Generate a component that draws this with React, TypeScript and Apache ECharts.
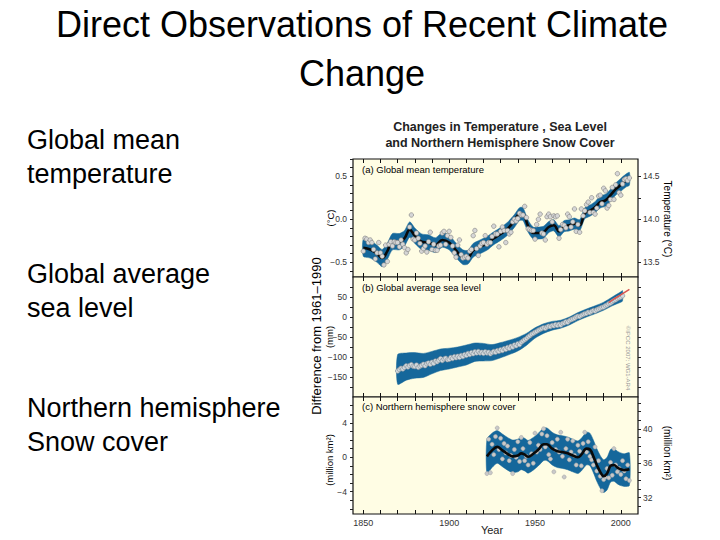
import React, { useEffect, useRef } from 'react';
import * as echarts from 'echarts';

// ---------- data ----------
const xTickYears = [1850, 1860, 1870, 1880, 1890, 1900, 1910, 1920, 1930, 1940, 1950, 1960, 1970, 1980, 1990, 2000];
const xLabelYears = [1850, 1900, 1950, 2000];

// (a) global mean temperature, annual anomalies (°C) from 1850
const tempStart = 1850;
const tempAnnual = [
  -0.37, -0.22, -0.23, -0.27, -0.24, -0.27, -0.35, -0.46, -0.39, -0.27,
  -0.39, -0.43, -0.53, -0.30, -0.49, -0.29, -0.26, -0.31, -0.26, -0.27,
  -0.27, -0.32, -0.24, -0.29, -0.33, -0.39, -0.35, -0.09, 0.05, -0.23,
  -0.24, -0.16, -0.22, -0.28, -0.37, -0.34, -0.31, -0.38, -0.26, -0.15,
  -0.35, -0.29, -0.36, -0.36, -0.31, -0.30, -0.16, -0.14, -0.29, -0.19,
  -0.14, -0.21, -0.31, -0.39, -0.44, -0.30, -0.24, -0.41, -0.45, -0.44,
  -0.43, -0.45, -0.37, -0.35, -0.19, -0.13, -0.34, -0.42, -0.31, -0.28,
  -0.27, -0.19, -0.29, -0.27, -0.27, -0.20, -0.08, -0.17, -0.17, -0.32,
  -0.14, -0.09, -0.13, -0.27, -0.13, -0.17, -0.15, -0.03, 0.00, -0.02,
  0.01, 0.07, 0.05, 0.05, 0.15, 0.02, -0.11, -0.12, -0.13, -0.13,
  -0.23, -0.06, 0.00, 0.06, -0.16, -0.17, -0.24, 0.03, 0.06, 0.03,
  -0.03, 0.04, 0.03, 0.04, -0.22, -0.12, -0.06, -0.07, -0.10, 0.06,
  0.03, -0.09, -0.03, 0.12, -0.14, -0.06, -0.15, 0.12, 0.04, 0.10,
  0.17, 0.20, 0.08, 0.25, 0.08, 0.06, 0.13, 0.27, 0.28, 0.18,
  0.36, 0.33, 0.13, 0.16, 0.23, 0.37, 0.23, 0.40, 0.53, 0.31,
  0.28, 0.41, 0.46, 0.47, 0.45, 0.48,
];
const tempSmoothYears = [1850, 1854, 1858, 1861, 1864, 1867, 1871, 1874, 1877, 1880, 1884, 1888, 1892, 1896, 1900, 1904, 1908, 1911, 1914, 1918, 1922, 1926, 1930, 1934, 1938, 1941, 1943, 1946, 1949, 1952, 1955, 1958, 1961, 1964, 1967, 1970, 1973, 1976, 1979, 1982, 1985, 1988, 1991, 1994, 1997, 2000, 2003, 2005];
const tempSmooth = [-0.33, -0.35, -0.40, -0.45, -0.37, -0.26, -0.26, -0.22, -0.12, -0.19, -0.26, -0.27, -0.30, -0.24, -0.27, -0.36, -0.44, -0.44, -0.36, -0.32, -0.28, -0.22, -0.17, -0.11, -0.02, 0.06, 0.06, -0.08, -0.16, -0.16, -0.15, -0.09, -0.07, -0.14, -0.08, -0.07, -0.05, -0.07, 0.07, 0.10, 0.14, 0.20, 0.22, 0.28, 0.35, 0.40, 0.45, 0.47];
const tempUncert = [0.10, 0.10, 0.10, 0.10, 0.095, 0.095, 0.095, 0.09, 0.09, 0.09, 0.09, 0.09, 0.085, 0.085, 0.085, 0.085, 0.085, 0.08, 0.08, 0.08, 0.08, 0.075, 0.075, 0.075, 0.075, 0.075, 0.075, 0.07, 0.07, 0.07, 0.07, 0.065, 0.065, 0.065, 0.065, 0.065, 0.065, 0.065, 0.065, 0.065, 0.065, 0.07, 0.07, 0.07, 0.07, 0.075, 0.075, 0.075];

// (b) global average sea level (mm), annual from 1870
const seaStart = 1870;
const seaAnnual = [
  -135, -131, -128, -130, -126, -122, -125, -121, -119, -123,
  -124, -120, -126, -123, -121, -118, -122, -117, -115, -118,
  -113, -116, -110, -112, -108, -104, -109, -105, -103, -107,
  -106, -101, -104, -99, -102, -98, -101, -96, -99, -94,
  -96, -91, -94, -89, -92, -87, -90, -86, -90, -88,
  -91, -87, -90, -88, -92, -89, -86, -88, -84, -86,
  -82, -84, -79, -81, -76, -78, -73, -75, -70, -72,
  -67, -69, -63, -60, -57, -54, -50, -47, -43, -41,
  -38, -36, -33, -31, -29, -27, -28, -25, -23, -24,
  -21, -22, -19, -21, -18, -20, -16, -15, -12, -13,
  -9, -7, -5, -3, 0, 2, 1, 4, 6, 8,
  9, 12, 11, 14, 16, 15, 18, 20, 22, 24,
  25, 28, 30, 33, 35, 38, 41, 43, 46, 48,
  50, 53,
];
const seaSmoothYears = [1870, 1875, 1880, 1885, 1890, 1895, 1900, 1905, 1910, 1915, 1920, 1925, 1930, 1935, 1940, 1945, 1950, 1955, 1960, 1965, 1970, 1975, 1980, 1985, 1990, 1995, 2000, 2001];
const seaSmooth = [-131, -124, -121, -121, -114, -107, -104, -100, -95, -88, -88, -89, -83, -76, -68, -56, -40, -29, -22, -18, -10, 1, 10, 18, 27, 39, 50, 53];
const seaUncert = [37, 34, 32, 30, 28, 27, 26, 25, 25, 23, 22, 20, 19, 18, 17, 15, 13, 12, 11, 10, 10, 10, 10, 10, 10, 11, 13, 13];
const satYears = [1993, 1996, 1999, 2002, 2005];
const satLevel = [36, 45, 53, 61, 69];

// (c) northern hemisphere snow cover anomalies (million km²), annual from 1922
const snowStart = 1922;
const snowAnnual = [
  -1.9, 2.1, -1.8, 1.5, 0.3, 2.4, 3.4, 0.9,
  2.2, -0.2, 1.6, 0.5, 1.3, -0.4, 0.2, -1.9, 0.9, 0.0,
  1.8, -0.5, 2.3, 1.0, -0.4, 0.1, -0.9, 1.7, 0.4, -0.7,
  2.8, 0.6, 1.4, 0.9, 2.7, 3.3, 1.2, 2.5, 0.3, -0.2,
  1.7, -1.7, 0.9, 2.1, 0.6, 2.9, 0.1, -2.3, 1.0, 2.1,
  -0.3, 0.6, 1.9, 0.2, -0.9, 1.4, 0.7, -1.0, 1.6, 2.9,
  0.6, 1.8, 0.1, -0.3, -0.9, 1.2, -1.6, -0.4, -2.2, -3.9,
  -2.6, -2.3, -1.3, -2.4, -0.6, -2.1, 1.0, -0.9, -1.7, -1.3,
  -2.0, -0.4, -1.6, -2.5, -0.9, -2.7,
];
const snowSmoothYears = [1922, 1925, 1928, 1931, 1934, 1937, 1940, 1942, 1944, 1946, 1949, 1952, 1955, 1957, 1960, 1963, 1966, 1969, 1972, 1975, 1977, 1980, 1982, 1984, 1986, 1988, 1990, 1992, 1994, 1996, 1998, 2000, 2002, 2005];
const snowSmooth = [0.1, 0.8, 1.2, 0.8, 0.4, 0.1, 0.2, 0.45, 0.3, 0.05, 0.4, 0.9, 1.5, 1.5, 1.0, 0.7, 0.6, 0.45, 0.2, 0.0, 0.3, 1.0, 0.9, 0.1, -0.9, -1.7, -2.2, -1.9, -1.0, -0.9, -1.2, -1.4, -1.5, -1.4];
const snowUncert = [2.0, 2.0, 1.9, 1.9, 1.9, 1.9, 1.9, 1.9, 1.9, 1.9, 1.9, 1.9, 1.9, 1.9, 1.9, 1.9, 1.9, 1.9, 1.9, 1.9, 1.9, 1.9, 1.9, 1.9, 1.9, 1.9, 1.9, 1.9, 1.9, 1.9, 1.9, 1.9, 1.9, 1.9];

// axis ticks / labels
const tempTicks = [-0.6, -0.5, -0.4, -0.3, -0.2, -0.1, 0, 0.1, 0.2, 0.3, 0.4, 0.5, 0.6, 0.7];
const tempLabels = [-0.5, 0, 0.5];
const absTempTicks = [13.5, 13.75, 14.0, 14.25, 14.5];
const absTempLabels = [13.5, 14.0, 14.5];
const seaTicks = [-175, -150, -125, -100, -75, -50, -25, 0, 25, 50, 75];
const seaLabels = [-150, -100, -50, 0, 50];
const snowTicks = [-6, -5, -4, -3, -2, -1, 0, 1, 2, 3, 4, 5, 6];
const snowLabels = [-4, 0, 4];
const absSnowTicks = [31, 32, 33, 34, 35, 36, 37, 38, 39, 40, 41, 42, 43];
const absSnowLabels = [32, 36, 40];

// ---------- styling ----------
const FONT = "'Liberation Sans', Arial, Helvetica, sans-serif";
const BAND = '#15679b';
const BG = '#fffde4';
const X_MIN = 1844;
const X_MAX = 2010;

const minus = (s: string) => s.replace('-', '\u2212');

function xAxisFor(grid: number, position: 'top' | 'bottom', labels: boolean) {
  return {
    type: 'value', gridIndex: grid, position, min: X_MIN, max: X_MAX,
    axisLine: { show: false, onZero: false }, splitLine: { show: false },
    axisTick: { show: true, inside: true, length: 4, customValues: xTickYears, lineStyle: { color: '#111', width: 1 } },
    axisLabel: { show: labels, customValues: xLabelYears, formatter: (v: number) => String(v), margin: 4, fontSize: 9, color: '#333', fontFamily: FONT },
  };
}

function yAxisFor(grid: number, position: 'left' | 'right', min: number, max: number, ticks: number[], labels: number[] | null, fmt: (v: number) => string, margin: number) {
  return {
    type: 'value', gridIndex: grid, position, min, max,
    axisLine: { show: false, onZero: false }, splitLine: { show: false },
    axisTick: { show: true, inside: false, length: 3, customValues: ticks, lineStyle: { color: '#222', width: 1 } },
    axisLabel: labels
      ? { show: true, customValues: labels, formatter: fmt, margin, fontSize: 8.5, color: '#333', fontFamily: FONT }
      : { show: false },
  };
}

function bandSeries(idx: number, years: number[], center: number[], unc: number[]) {
  return {
    type: 'custom', xAxisIndex: idx, yAxisIndex: idx, clip: true, silent: true, z: 1,
    data: [[years[0], center[0]]],
    renderItem: (_params: any, api: any) => {
      const upper = years.map((y, i) => api.coord([y, center[i] + unc[i]]));
      const lower = years.map((y, i) => api.coord([y, center[i] - unc[i]]));
      return {
        type: 'polygon',
        shape: { points: upper.concat(lower.slice().reverse()), smooth: 0.25 },
        style: { fill: BAND, stroke: BAND, lineWidth: 0.5 },
      };
    },
  };
}

function lineSeries(idx: number, years: number[], vals: number[]) {
  return { type: 'line', xAxisIndex: idx, yAxisIndex: idx, z: 3, data: years.map((y, i) => [y, vals[i]]), smooth: 0.4, symbol: 'none', lineStyle: { color: '#0a0a0a', width: 2.6 } };
}

function dotSeries(idx: number, start: number, vals: number[], size: number, fill: string, border: string) {
  return {
    type: 'scatter', xAxisIndex: idx, yAxisIndex: idx, z: 4,
    data: vals.map((v, i) => [start + i, v]), symbolSize: size,
    itemStyle: { color: fill, borderColor: border, borderWidth: 0.6, opacity: 1 },
  };
}

function txt(x: number, y: number, text: string, size: number, opts: any = {}) {
  return {
    type: 'text', x, y, rotation: opts.rotation || 0,
    style: {
      text, fontSize: size, fontFamily: FONT, fill: opts.fill || '#000', fontWeight: opts.weight || 'normal',
      align: opts.align || 'left', verticalAlign: 'middle',
    },
  };
}

export default function App() {
  const ref = useRef<HTMLDivElement>(null);
  useEffect(() => {
    if (!ref.current) return;
    const chart = echarts.init(ref.current, null, { renderer: 'svg' });
    const grids = [
      { left: 353, top: 159, width: 285, height: 118 },
      { left: 353, top: 277, width: 285, height: 120 },
      { left: 353, top: 397, width: 285, height: 117 },
    ].map((g) => ({ ...g, show: true, backgroundColor: BG, borderColor: '#111', borderWidth: 1.2, containLabel: false, outerBoundsMode: 'none' }));

    const option: any = {
      animation: false,
      backgroundColor: '#ffffff',
      grid: grids,
      xAxis: [
        xAxisFor(0, 'bottom', false), xAxisFor(1, 'bottom', false), xAxisFor(2, 'bottom', true),
        xAxisFor(0, 'top', false), xAxisFor(1, 'top', false), xAxisFor(2, 'top', false),
      ],
      yAxis: [
        yAxisFor(0, 'left', -0.67, 0.70, tempTicks, tempLabels, (v) => minus(v.toFixed(1)), 6),
        yAxisFor(1, 'left', -200, 100, seaTicks, seaLabels, (v) => minus(String(v)), 6),
        yAxisFor(2, 'left', -6.6, 7.0, snowTicks, snowLabels, (v) => minus(String(v)), 6),
        yAxisFor(0, 'right', 13.33, 14.70, absTempTicks, absTempLabels, (v) => v.toFixed(1), 5),
        yAxisFor(1, 'right', -200, 100, seaTicks, null, (v) => String(v), 5),
        yAxisFor(2, 'right', 30.1, 43.7, absSnowTicks, absSnowLabels, (v) => String(v), 5),
      ],
      series: [
        bandSeries(0, tempSmoothYears, tempSmooth, tempUncert),
        lineSeries(0, tempSmoothYears, tempSmooth),
        dotSeries(0, tempStart, tempAnnual, 4.5, '#d6d6d6', '#808080'),
        bandSeries(1, seaSmoothYears, seaSmooth, seaUncert),
        lineSeries(1, seaSmoothYears, seaSmooth),
        dotSeries(1, seaStart, seaAnnual, 4.5, '#d2d8dc', '#7d8a94'),
        { type: 'line', xAxisIndex: 1, yAxisIndex: 1, z: 5, data: satYears.map((y, i) => [y, satLevel[i]]), symbol: 'none', lineStyle: { color: '#d9534f', width: 1.5 } },
        bandSeries(2, snowSmoothYears, snowSmooth, snowUncert),
        dotSeries(2, snowStart, snowAnnual, 4, '#c9c9c9', '#a8a8a8'),
        { ...lineSeries(2, snowSmoothYears, snowSmooth), z: 5 },
      ],
      graphic: [
        txt(362, 24, 'Direct Observations of Recent Climate', 36, { align: 'center' }),
        txt(362, 73, 'Change', 36, { align: 'center' }),
        txt(27, 140, 'Global mean', 27),
        txt(27, 174, 'temperature', 27),
        txt(27, 274, 'Global average', 27),
        txt(27, 308, 'sea level', 27),
        txt(27, 408, 'Northern hemisphere', 27),
        txt(27, 442, 'Snow cover', 27),
        txt(500, 127, 'Changes in Temperature , Sea Level', 12.5, { align: 'center', fill: '#222', weight: 'bold' }),
        txt(500, 143, 'and Northern Hemisphere Snow Cover', 12.5, { align: 'center', fill: '#222', weight: 'bold' }),
        txt(362, 169, '(a) Global mean temperature', 9.5),
        txt(362, 287, '(b) Global average sea level', 9.5),
        txt(362, 406, '(c) Northern hemisphere snow cover', 9.5),
        txt(330, 218, '(\u00b0C)', 9.5, { align: 'center', rotation: Math.PI / 2 }),
        txt(329, 337, '(mm)', 9.5, { align: 'center', rotation: Math.PI / 2 }),
        txt(329, 460, '(million km\u00b2)', 9.5, { align: 'center', rotation: Math.PI / 2 }),
        txt(316, 336, 'Difference from 1961\u20131990', 13, { align: 'center', rotation: Math.PI / 2 }),
        txt(667, 219, 'Temperature (\u00b0C)', 10, { align: 'center', rotation: -Math.PI / 2 }),
        txt(667, 453, '(million km\u00b2)', 10, { align: 'center', rotation: -Math.PI / 2 }),
        txt(628, 358, '\u00a9IPCC 2007: WG1-AR4', 6, { align: 'center', rotation: -Math.PI / 2, fill: '#999' }),
        txt(492, 530, 'Year', 11, { align: 'center', fill: '#222' }),
      ],
    };
    chart.setOption(option);
    return () => chart.dispose();
  }, []);
  return <div ref={ref} style={{ position: 'fixed', left: 0, top: 0, width: 720, height: 540, background: '#fff' }} />;
}
